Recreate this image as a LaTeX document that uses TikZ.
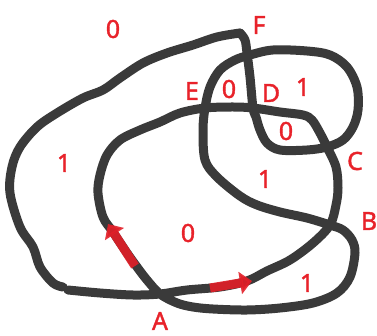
\documentclass[tikz,border=0pt]{standalone}
\usepackage{fontspec}
\setmainfont{Noto Sans}
\newfontfamily\labfont{Noto Sans}[FakeBold=1.5]
\usetikzlibrary{arrows.meta}
\definecolor{ink}{HTML}{3A3A3A}
\definecolor{lbl}{HTML}{E8222A}
\definecolor{arr}{HTML}{E21F28}
\tikzset{
  curve/.style={draw=ink,line width=9pt,line cap=round,line join=round},
  lab/.style={text=lbl,font=\labfont\fontsize{25}{30}\selectfont,inner sep=0pt},
  redarrow/.style={draw=arr,line width=9pt,opacity=0.9,-{Triangle[length=12pt,width=22pt]}}
}
\begin{document}
\begin{tikzpicture}[x=1pt,y=-1pt]
\useasboundingbox (0,0) rectangle (377,336);
\draw[curve] plot[smooth,tension=0.55] coordinates {
(68,290) (100,293) (133,295) (160,294) (187,290) (220,287) (247,281) (267,271) (290,260) (313,243) (330,225) (336,205) (338,188) (336,167) (327,147) (320,133) (312,120) (303,115) (280,112) (253,108) (233,107) (205,108) (180,113) (160,122) (140,130) (120,140) (107,155) (100,175) (98,193) (103,217) (113,232) (127,253) (137,267) (147,280) (160,294) (177,303) (193,307) (213,309) (247,310) (280,308) (313,303) (337,293) (350,277) (355,253) (352,240) (343,230) (330,225) (307,218) (280,212) (257,205) (240,196) (217,177) (205,160) (203,130) (205,108) (210,87) (220,70) (235,60) (250,55) (273,50) (307,51) (330,55) (347,67) (357,87) (358,110) (353,127) (343,140) (327,147) (307,150) (280,150) (267,143) (260,130) (256,117) (253,108) (250,77) (247,53) (245,40) (240,33)};
\draw[curve] plot[smooth,tension=0.55] coordinates {
(240,33) (217,37) (193,45) (167,53) (143,63) (120,78) (103,90) (83,98) (57,113) (37,127) (20,147) (12,167) (10,193) (20,227) (33,247) (40,267) (53,283) (63,287)};
\coordinate (a1s) at (210,288);
\coordinate (a1e) at (252,281);
\coordinate (a2s) at (135,266);
\coordinate (a2e) at (108,224);
\draw[redarrow] (a1s) -- (a1e);
\draw[redarrow] (a2s) -- (a2e);
\node[lab] (t0top) at (113,29) {0};
\node[lab] (tF) at (259,25) {F};
\node[lab] (tE) at (192,91) {E};
\node[lab] (t0e) at (229,89) {0};
\node[lab] (tD) at (271,93) {D};
\node[lab] (t1tr) at (303,87) {1};
\node[lab] (t0mid) at (286,131) {0};
\node[lab] (tC) at (355,161) {C};
\node[lab] (t1left) at (64,163) {1};
\node[lab] (t1ctr) at (265,179) {1};
\node[lab] (tB) at (369,221) {B};
\node[lab] (t0bot) at (188,233) {0};
\node[lab] (t1br) at (307,283) {1};
\node[lab] (tA) at (160,321) {A};
\end{tikzpicture}
\end{document}
